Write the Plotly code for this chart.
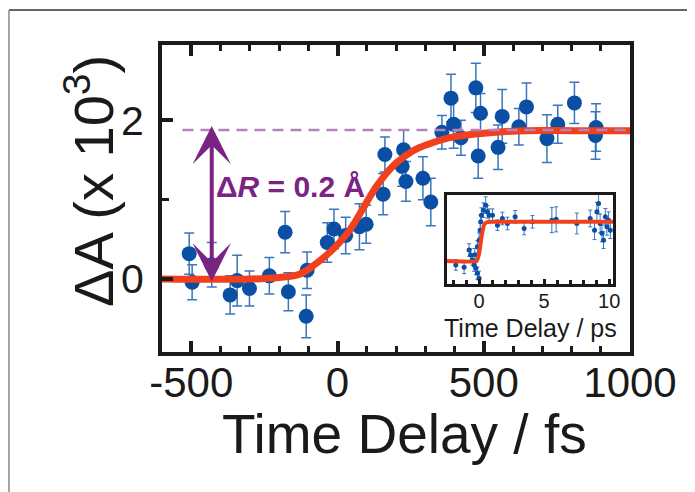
import plotly.graph_objects as go

# ---------------- main panel data (fs, dA x 1e3) ----------------
t_fs = [-507, -497, -430, -367, -343, -301, -233, -179, -168, -107, -104,
        -35, -12, 28, 75, 98, 156, 162, 221, 226, 234, 292, 319,
        357, 388, 397, 422, 473, 489, 481, 549, 563, 620, 646, 716, 753,
        810, 884, 882]
dA = [0.32, -0.04, 0.18, -0.20, -0.02, -0.12, 0.04, 0.59, -0.16, -0.47, 0.11,
      0.46, 0.63, 0.55, 0.66, 0.69, 1.07, 1.57, 1.42, 1.63, 1.23, 1.27, 0.97,
      1.85, 2.28, 1.95, 1.78, 2.41, 2.09, 1.55, 1.66, 2.05, 1.92, 2.17, 1.77, 1.95,
      2.22, 1.91, 1.81]
dA_err = [0.26, 0.22, 0.28, 0.24, 0.32, 0.22, 0.23, 0.26, 0.24, 0.27, 0.23,
          0.25, 0.25, 0.23, 0.29, 0.24, 0.26, 0.22, 0.25, 0.25, 0.25, 0.27, 0.30,
          0.21, 0.30, 0.30, 0.22, 0.31, 0.25, 0.28, 0.28, 0.34, 0.23, 0.30, 0.30, 0.24,
          0.26, 0.30, 0.30]

# fit curve
fit_t = [-600, -300, -200, -130, -75, -20, 30, 60, 100, 130, 160, 200, 260,
         310, 380, 430, 540, 650, 800, 1000]
fit_y = [0.0, 0.0, 0.02, 0.06, 0.19, 0.36, 0.56, 0.72, 0.97, 1.15, 1.30, 1.46,
         1.62, 1.70, 1.78, 1.81, 1.85, 1.87, 1.87, 1.87]

# dashed plateau reference line
plateau_t = [-530, 1000]
plateau_y = [1.88, 1.88]

# arrow (delta R) ends
arrow_t = -430
arrow_top = 1.93
arrow_bottom = -0.05

x_tick_vals = [-500, 0, 500, 1000]
x_tick_text = ["-500", "0", "500", "1000"]
y_tick_vals = [0, 2]
y_tick_text = ["0", "2"]

# ---------------- inset data (ps) ----------------
in_t = [-1.79, -1.15, -0.77, -0.64, -0.52, -0.38, -0.25, -0.13, 0.0, -0.33,
        -0.13, 0.0, 0.08, 0.13, 0.18, 0.33, 0.51, 0.64, 0.77, 1.03, 1.41,
        1.79, 2.18, 2.77, 3.46, 4.1, 5.59, 5.92, 7.51, 8.54, 8.87, 9.05,
        9.18, 9.3, 9.44, 9.56, 9.7, 9.82, 9.95, 10.08]
in_y = [-0.19, -0.30, 0.53, 0.29, 0.05, -0.19, -0.35, -0.59, -0.83, 0.30,
        0.68, 1.00, 1.48, 1.88, 2.20, 2.44, 2.68, 2.36, 2.20, 2.20, 1.72,
        2.04, 1.80, 2.12, 1.56, 1.88, 1.96, 2.00, 1.80, 2.04, 1.48, 2.36,
        2.76, 1.80, 1.33, 1.00, 2.12, 1.64, 1.96, 1.48]
in_err = [0.25, 0.30, 0.30, 0.30, 0.25, 0.30, 0.30, 0.30, 0.35, 0.30,
          0.30, 0.35, 0.35, 0.35, 0.35, 0.35, 0.40, 0.30, 0.30, 0.30, 0.25,
          0.30, 0.30, 0.30, 0.30, 0.30, 0.60, 0.60, 0.50, 0.40, 0.45, 0.45,
          0.50, 0.45, 0.40, 0.40, 0.40, 0.40, 0.40, 0.40]
in_fit_t = [-2.5, -0.2, 0.0, 0.2, 0.4, 0.6, 1.0, 10.3]
in_fit_y = [0.0, 0.0, 0.35, 1.2, 1.75, 1.86, 1.88, 1.88]
in_tick_vals = [0, 5, 10]
in_tick_text = ["0", "5", "10"]

BLUE = "#0a4fa3"
ERRBLUE = "#3a76bd"
RED = "#f0401e"
PURPLE = "#7b2382"
DASH = "#b482bd"
INK = "#1a1a1a"
FONT = "Liberation Sans, Arial, Helvetica, sans-serif"

fig = go.Figure()

fig.add_trace(go.Scatter(
    x=t_fs, y=dA, mode="markers",
    marker=dict(color=BLUE, size=15),
    error_y=dict(type="data", array=dA_err, color=ERRBLUE, thickness=1.5, width=5),
    xaxis="x", yaxis="y", showlegend=False))
fig.add_trace(go.Scatter(
    x=fit_t, y=fit_y, mode="lines", line=dict(color=RED, width=7, shape="spline"),
    xaxis="x", yaxis="y", showlegend=False))
fig.add_trace(go.Scatter(
    x=plateau_t, y=plateau_y, mode="lines",
    line=dict(color=DASH, width=2.5, dash="11px,7px"),
    xaxis="x", yaxis="y", showlegend=False))

# inset
fig.add_trace(go.Scatter(
    x=in_t, y=in_y, mode="markers",
    marker=dict(color=BLUE, size=5),
    error_y=dict(type="data", array=in_err, color=ERRBLUE, thickness=1, width=2),
    xaxis="x2", yaxis="y2", showlegend=False))
fig.add_trace(go.Scatter(
    x=in_fit_t, y=in_fit_y, mode="lines", line=dict(color=RED, width=4, shape="spline", smoothing=0.3),
    xaxis="x2", yaxis="y2", showlegend=False))

# the page has an 8px body margin, so the figure is 8px smaller and offset
fig.update_layout(
    width=687, height=484,
    margin=dict(l=154, r=65, t=37, b=140),
    paper_bgcolor="white", plot_bgcolor="white",
    xaxis=dict(range=[-600, 1000], domain=[0, 1], showgrid=False, zeroline=False,
               showline=True, linewidth=4, linecolor=INK, mirror="ticks",
               ticks="inside", ticklen=11, tickwidth=3.5, tickcolor=INK,
               tickvals=x_tick_vals, ticktext=x_tick_text, ticklabelstandoff=-9,
               minor=dict(dtick=100, ticks="inside", ticklen=6, tickwidth=3, tickcolor=INK),
               tickfont=dict(family=FONT, size=42, color=INK)),
    yaxis=dict(range=[-0.92, 2.95], domain=[0, 1], showgrid=False, zeroline=False,
               showline=True, linewidth=4, linecolor=INK, mirror=True,
               ticks="inside", ticklen=11, tickwidth=3.5, tickcolor=INK,
               tickvals=y_tick_vals, ticktext=y_tick_text, ticklabelstandoff=6,
               minor=dict(tickvals=[1], ticks="inside", ticklen=7, tickwidth=3, tickcolor=INK),
               tickfont=dict(family=FONT, size=41, color=INK)),
    xaxis2=dict(domain=[0.608, 0.964], anchor="y2", range=[-2.5, 10.3],
                showgrid=False, zeroline=False, showline=True, linewidth=2.5,
                linecolor=INK, mirror=True, ticks="inside", ticklen=5,
                tickwidth=2.5, tickcolor=INK,
                tickvals=in_tick_vals, ticktext=in_tick_text, ticklabelstandoff=-3,
                minor=dict(dtick=1, ticks="inside", ticklen=4, tickwidth=2.5, tickcolor=INK),
                tickfont=dict(family=FONT, size=20, color=INK)),
    yaxis2=dict(domain=[0.2215, 0.511], anchor="x2", range=[-1.1, 3.16],
                showgrid=False, zeroline=False, showline=True, linewidth=2.5,
                linecolor=INK, mirror=True, ticks="", showticklabels=False),
)

fig.add_annotation(
    x=arrow_t, y=arrow_top, ax=arrow_t, ay=arrow_bottom, xref="x", yref="y",
    axref="x", ayref="y", text="", showarrow=True, arrowside="end+start",
    arrowhead=3, startarrowhead=3, arrowsize=1.6, startarrowsize=1.6,
    arrowwidth=4, arrowcolor=PURPLE)
fig.add_annotation(
    x=-162, y=1.17, xref="x", yref="y", showarrow=False,
    text="<b>Δ<i>R</i> = 0.2 Å</b>", font=dict(family=FONT, size=30, color=PURPLE))

# axis titles
fig.add_annotation(
    x=-0.154, y=0.557, xref="paper", yref="paper", showarrow=False,
    textangle=-90, xanchor="center", yanchor="middle",
    text="ΔA (x 10<sup>3</sup>)", font=dict(family=FONT, size=56, color=INK))
fig.add_annotation(
    x=0.519, y=-0.267, xref="paper", yref="paper", showarrow=False,
    xanchor="center", yanchor="middle",
    text="Time Delay / fs", font=dict(family=FONT, size=55, color=INK))
fig.add_annotation(
    x=0.787, y=0.078, xref="paper", yref="paper", showarrow=False,
    xanchor="center", yanchor="middle",
    text="Time Delay / ps", font=dict(family=FONT, size=25, color=INK))

# outer frame lines
fig.add_shape(type="line", xref="paper", yref="paper", x0=-0.327, x1=1.5,
              y0=1.114, y1=1.114, line=dict(color="#333333", width=1.5))
fig.add_shape(type="line", xref="paper", yref="paper", x0=-0.327, x1=-0.327,
              y0=1.114, y1=-0.6, line=dict(color="#8a8a8a", width=1.5))

fig.write_html("out.html")
